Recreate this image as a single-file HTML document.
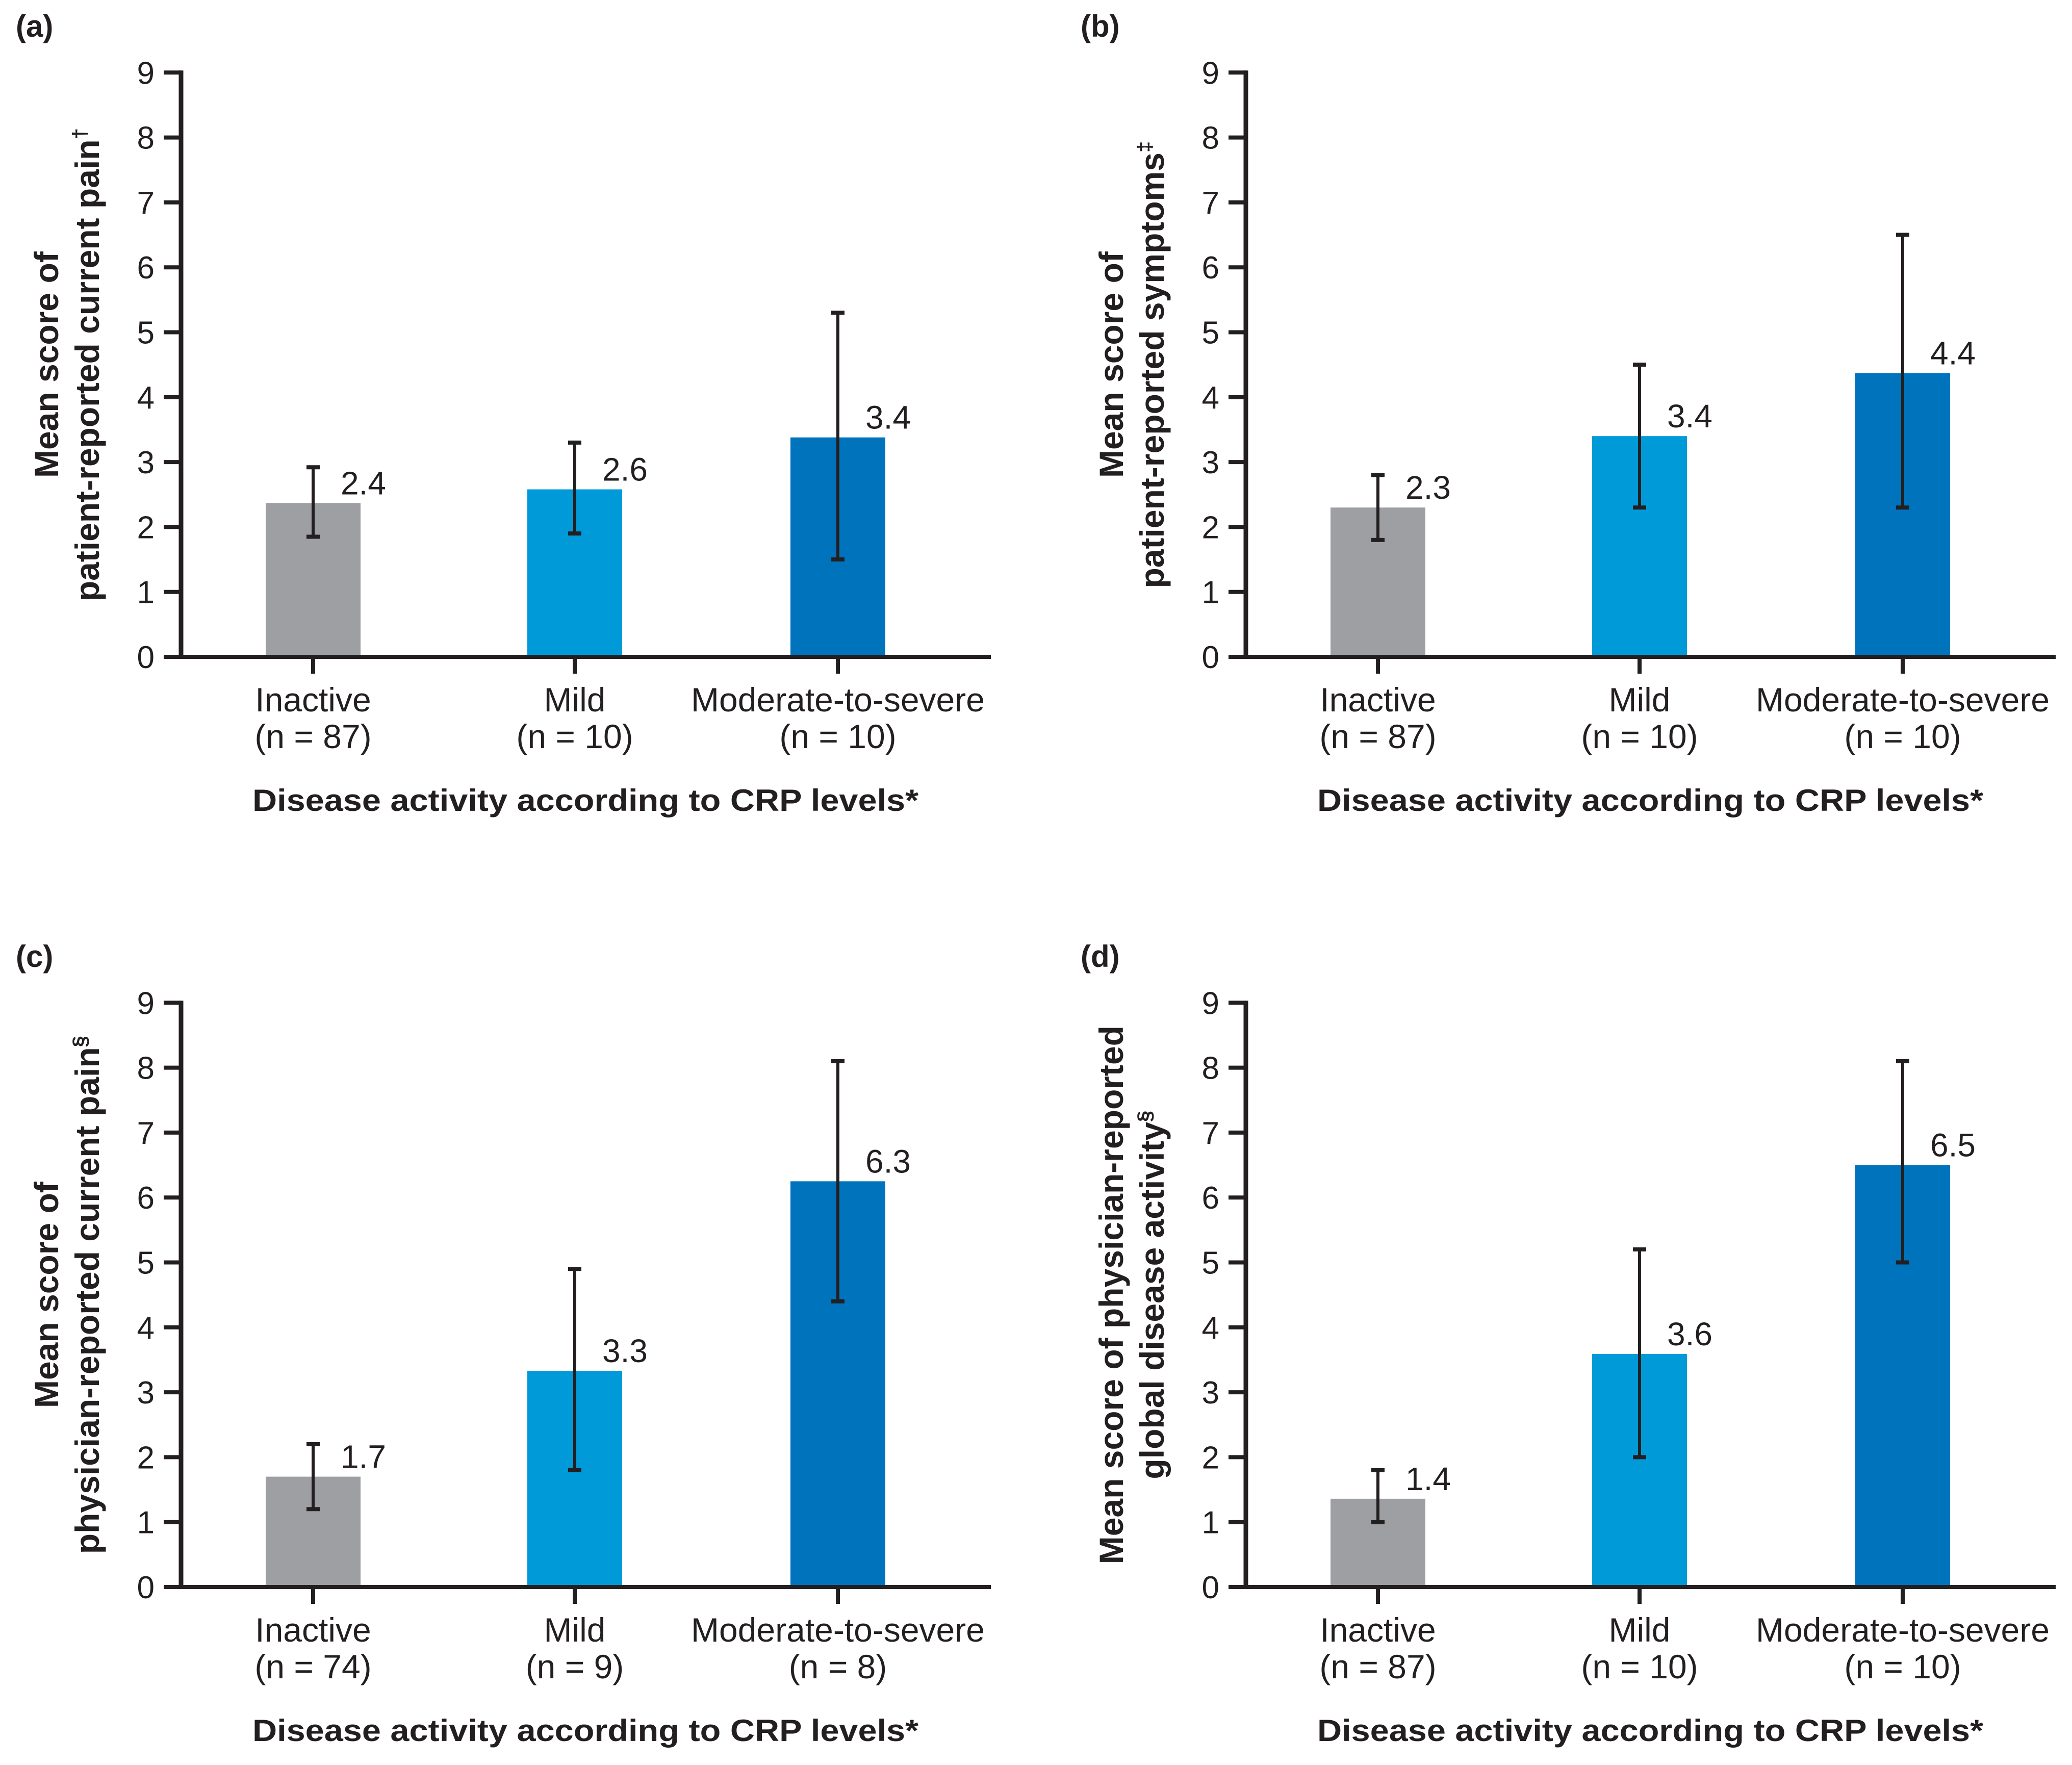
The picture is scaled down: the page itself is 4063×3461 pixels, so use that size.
<!DOCTYPE html>
<html><head><meta charset="utf-8"><style>
html,body{margin:0;padding:0;background:#fff;}
svg{display:block;}
text{font-family:"Liberation Sans",Arial,sans-serif;fill:#231f20;}
</style></head><body>
<svg id="fig" width="4063" height="3461" viewBox="0 0 4063 3461" xmlns="http://www.w3.org/2000/svg"></svg>
<script>
const categories = ["Inactive","Mild","Moderate-to-severe"];
const nA = ["(n = 87)","(n = 10)","(n = 10)"];
const nB = ["(n = 87)","(n = 10)","(n = 10)"];
const nC = ["(n = 74)","(n = 9)","(n = 8)"];
const nD = ["(n = 87)","(n = 10)","(n = 10)"];
const valuesA = [2.37, 2.58, 3.38];
const valuesB = [2.3, 3.4, 4.37];
const valuesC = [1.7, 3.33, 6.25];
const valuesD = [1.36, 3.59, 6.5];
const labelsA = ["2.4","2.6","3.4"];
const labelsB = ["2.3","3.4","4.4"];
const labelsC = ["1.7","3.3","6.3"];
const labelsD = ["1.4","3.6","6.5"];
const lowA = [1.85, 1.9, 1.5];   const highA = [2.92, 3.3, 5.3];
const lowB = [1.8, 2.3, 2.3];    const highB = [2.8, 4.5, 6.5];
const lowC = [1.2, 1.8, 4.4];    const highC = [2.2, 4.9, 8.1];
const lowD = [1.0, 2.0, 5.0];    const highD = [1.8, 5.2, 8.1];
const yTicks = [0,1,2,3,4,5,6,7,8,9];
const colors = ["#9d9fa2","#009ad9","#0073bd"];
const NS = "http://www.w3.org/2000/svg";
const svg = document.getElementById('fig');
function mk(tag, attrs, parent){const e=document.createElementNS(NS,tag);for(const k in attrs)e.setAttribute(k,attrs[k]);(parent||svg).appendChild(e);return e;}

function panel(ox, oy, letter, t1, t2, sup, values, labels, low, high, ns, key){
  const g = mk('g',{});
  
  
  const ax=355+ox, y0=1288+oy, unit=127.3, xEnd=1943+ox;
  const ys = v => y0 - v*unit;
  const centers=[614,1127,1643].map(c=>c+ox);
  const bw=186;
  const pl = mk('text',{x:31+ox,y:72+oy,'font-size':60,'font-weight':'bold'},g); pl.textContent='('+letter+')';
  
  
  values.forEach((v,i)=>{
    const r = mk('rect',{x:centers[i]-bw/2,y:ys(v),width:bw,height:y0-ys(v),fill:colors[i]},g);
    
    
  });
  values.forEach((v,i)=>{
    const e = mk('g',{stroke:'#231f20','stroke-width':6},g);
    
    
    mk('line',{x1:centers[i],x2:centers[i],y1:ys(high[i]),y2:ys(low[i])},e);
    mk('line',{x1:centers[i]-13,x2:centers[i]+13,y1:ys(high[i]),y2:ys(high[i]),'stroke-width':8},e);
    mk('line',{x1:centers[i]-13,x2:centers[i]+13,y1:ys(low[i]),y2:ys(low[i]),'stroke-width':8},e);
    const t = mk('text',{x:centers[i]+54,y:ys(v)-17,'font-size':64},g); t.textContent=labels[i];
    
    
  });
  const axl = mk('line',{x1:ax,x2:ax,y1:ys(9)-4,y2:y0+4,stroke:'#231f20','stroke-width':9},g);
  
  
  const xl = mk('line',{x1:ax-34,x2:xEnd,y1:y0,y2:y0,stroke:'#231f20','stroke-width':8},g);
  
  
  yTicks.forEach(t=>{
    mk('line',{x1:ax-34,x2:ax,y1:ys(t),y2:ys(t),stroke:'#231f20','stroke-width':8},g);
    const tl = mk('text',{x:ax-52,y:ys(t)+22,'font-size':62,'text-anchor':'end'},g); tl.textContent=t;
    
    
  });
  categories.forEach((c,i)=>{
    mk('line',{x1:centers[i],x2:centers[i],y1:y0,y2:y0+33,stroke:'#231f20','stroke-width':8},g);
    const a = mk('text',{x:centers[i],y:1395+oy,'font-size':66,'text-anchor':'middle'},g); a.textContent=c;
    
    
    const b = mk('text',{x:centers[i],y:1467+oy,'font-size':66,'text-anchor':'middle'},g); b.textContent=ns[i];
    
    
  });
  const xt = mk('text',{x:1148+ox,y:1590+oy,'font-size':60,'font-weight':'bold','text-anchor':'middle',textLength:1306,lengthAdjust:'spacingAndGlyphs'},g);
  xt.textContent='Disease activity according to CRP levels*';
  
  
  const cy = (ys(9)+y0)/2;
  const yt = mk('text',{transform:`translate(${114+ox},${cy}) rotate(-90)`,'font-size':66,'font-weight':'bold','text-anchor':'middle'},g);
  yt.textContent=t1;
  
  
  const yt2 = mk('text',{transform:`translate(${194+ox},${cy}) rotate(-90)`,'font-size':66,'font-weight':'bold','text-anchor':'middle'},g);
  yt2.textContent=t2;
  const s = mk('tspan',{'font-size':40,dy:-24},yt2); s.textContent=sup;
  
  
}
panel(0,0,'a','Mean score of','patient-reported current pain','†',valuesA,labelsA,lowA,highA,nA,'a');
panel(2088,0,'b','Mean score of','patient-reported symptoms','‡',valuesB,labelsB,lowB,highB,nB,'b');
panel(0,1824,'c','Mean score of','physician-reported current pain','§',valuesC,labelsC,lowC,highC,nC,'c');
panel(2088,1824,'d','Mean score of physician-reported','global disease activity','§',valuesD,labelsD,lowD,highD,nD,'d');
</script>
</body></html>
